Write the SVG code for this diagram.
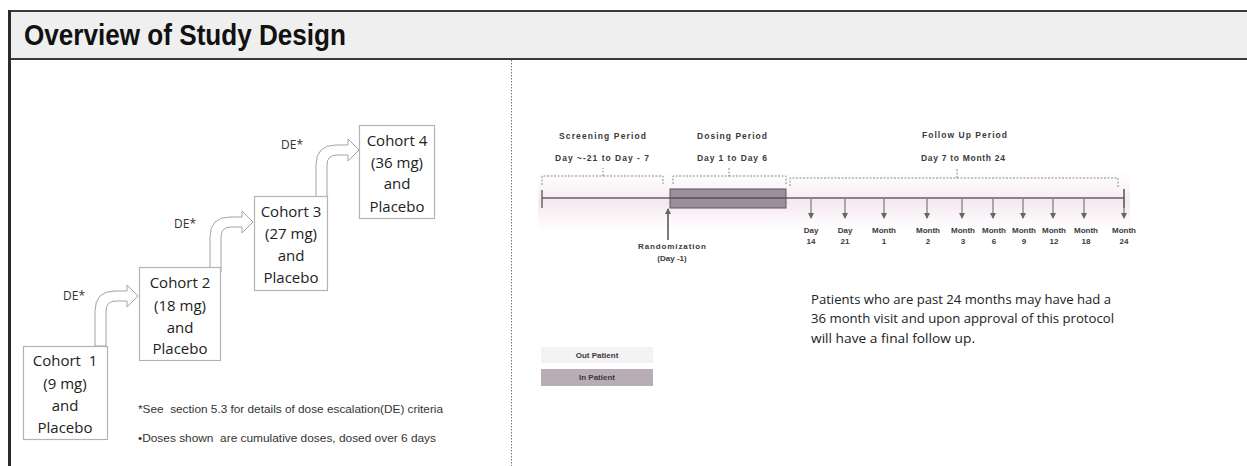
<svg xmlns="http://www.w3.org/2000/svg" width="1247" height="466" viewBox="0 0 1247 466">
<style>
.box{fill:#fff;stroke:#b3b3b3;stroke-width:1.2}
.ct{font-family:"Open Sans","Noto Sans",sans-serif;font-size:15px;fill:#222;text-anchor:middle}
.de{font-family:"Open Sans","Noto Sans",sans-serif;font-size:12px;fill:#333}
.arr{fill:#fff;stroke:#a3a3a3;stroke-width:1}
.fn{font-family:"Liberation Sans",Arial,sans-serif;font-size:10.5px;fill:#333}
.th{font-family:"Liberation Sans",Arial,sans-serif;font-size:8.5px;font-weight:bold;fill:#3a3a3a}
.tl{font-family:"Liberation Sans",Arial,sans-serif;font-size:8px;font-weight:bold;fill:#3a3a3a;text-anchor:middle}
.brace{fill:none;stroke:#8a8a8a;stroke-width:1;stroke-dasharray:2 1.5}
.dn{stroke:#777;stroke-width:1.2}
.note{font-family:"Open Sans","Noto Sans",sans-serif;font-size:13px;fill:#222}
</style>
<defs>
<path id="bend" d="M -43 50 V 15 Q -43 -5 -23 -5 H -11 V -11 L 0 0 L -11 11 V 5 H -22 Q -32 5 -32 15 V 50 Z"/>
<marker id="ah" viewBox="0 0 6 6" refX="5" refY="3" markerWidth="5" markerHeight="5" orient="auto"><path d="M0 0 L6 3 L0 6 Z" fill="#666"/></marker>
<linearGradient id="band" x1="0" y1="0" x2="0" y2="1">
<stop offset="0" stop-color="#f7eef4" stop-opacity="0"/>
<stop offset="0.5" stop-color="#f4e8f0"/>
<stop offset="1" stop-color="#f7eef4" stop-opacity="0"/>
</linearGradient>
</defs>
<rect width="1247" height="466" fill="#fff"/>
<g id="header">
<rect x="9" y="11" width="1238" height="48" fill="#efefef"/>
<line x1="9" y1="11" x2="1247" y2="11" stroke="#3a3a3a" stroke-width="2"/>
<line x1="9" y1="59" x2="1247" y2="59" stroke="#3a3a3a" stroke-width="2"/>
<line x1="9.5" y1="10" x2="9.5" y2="466" stroke="#2a2a2a" stroke-width="3"/>
<text x="24" y="45" font-family="'Liberation Sans',Arial,sans-serif" font-size="29" font-weight="bold" fill="#111" textLength="322" lengthAdjust="spacingAndGlyphs">Overview of Study Design</text>
</g>
<line x1="511.5" y1="60" x2="511.5" y2="466" stroke="#777" stroke-width="1" stroke-dasharray="1.5 1.5"/>
<g id="connectors">
<use href="#bend" class="arr" transform="translate(138,296)"/>
<use href="#bend" class="arr" transform="translate(253,222)"/>
<use href="#bend" class="arr" transform="translate(359,150)"/>
<text class="de" x="63" y="300">DE*</text>
<text class="de" x="174" y="228">DE*</text>
<text class="de" x="281" y="149">DE*</text>
</g>
<g id="cohort1">
<rect class="box" x="23.5" y="346.5" width="84" height="93"/>
<text class="ct" x="65" y="366" xml:space="preserve">Cohort  1</text>
<text class="ct" x="65" y="389">(9 mg)</text>
<text class="ct" x="65" y="411">and</text>
<text class="ct" x="65" y="433">Placebo</text>
</g>
<g id="cohort2">
<rect class="box" x="139.5" y="267.5" width="81" height="93"/>
<text class="ct" x="180" y="288">Cohort 2</text>
<text class="ct" x="180" y="311">(18 mg)</text>
<text class="ct" x="180" y="333">and</text>
<text class="ct" x="180" y="354">Placebo</text>
</g>
<g id="cohort3">
<rect class="box" x="254.5" y="196.5" width="73" height="94"/>
<text class="ct" x="291" y="217">Cohort 3</text>
<text class="ct" x="291" y="239">(27 mg)</text>
<text class="ct" x="291" y="261">and</text>
<text class="ct" x="291" y="283">Placebo</text>
</g>
<g id="cohort4">
<rect class="box" x="359.5" y="125.5" width="75" height="93"/>
<text class="ct" x="397" y="146">Cohort 4</text>
<text class="ct" x="397" y="168">(36 mg)</text>
<text class="ct" x="397" y="189">and</text>
<text class="ct" x="397" y="212">Placebo</text>
</g>
<g id="footnotes">
<text class="fn" x="138" y="413" textLength="305" lengthAdjust="spacingAndGlyphs" xml:space="preserve">*See  section 5.3 for details of dose escalation(DE) criteria</text>
<text class="fn" x="138" y="442" textLength="298" lengthAdjust="spacingAndGlyphs" xml:space="preserve">•Doses shown  are cumulative doses, dosed over 6 days</text>
</g>
<g id="timeline">
<rect x="538" y="172" width="592" height="60" fill="url(#band)"/>
<text class="th" x="559" y="139" textLength="87" lengthAdjust="spacing">Screening Period</text>
<text class="th" x="555" y="161" textLength="94" lengthAdjust="spacing">Day ~-21 to Day - 7</text>
<text class="th" x="697" y="139" textLength="70" lengthAdjust="spacing">Dosing Period</text>
<text class="th" x="697" y="161" textLength="70" lengthAdjust="spacing">Day 1 to Day 6</text>
<text class="th" x="922" y="138" textLength="85" lengthAdjust="spacing">Follow Up Period</text>
<text class="th" x="921" y="161" textLength="84" lengthAdjust="spacing">Day 7 to Month 24</text>
<path class="brace" d="M542 185 V176 H603 V168 M603 176 H663 V184"/>
<path class="brace" d="M673 184 V176 H729 V168 M729 176 H786 V184"/>
<path class="brace" d="M790 186 V178 H957 V168 M957 178 H1118 V188"/>
<line x1="542" y1="198" x2="1124" y2="198" stroke="#8d8089" stroke-width="2"/>
<line x1="542" y1="190" x2="542" y2="208" stroke="#666" stroke-width="1.5"/>
<rect x="670" y="189" width="116" height="19" fill="#9c8f99" stroke="#5f5560" stroke-width="1"/>
<line x1="670" y1="198" x2="786" y2="198" stroke="#6a5d68" stroke-width="2"/>
<line x1="1124" y1="189" x2="1124" y2="208" stroke="#555" stroke-width="1.5"/>
<line x1="668" y1="240" x2="668" y2="209" stroke="#333" stroke-width="1.3" marker-end="url(#ah)"/>
<text class="tl" x="672" y="249" textLength="68" lengthAdjust="spacing">Randomization</text>
<text class="tl" x="672" y="261">(Day -1)</text>
<g>
<line class="dn" x1="811" y1="199" x2="811" y2="218" marker-end="url(#ah)"/>
<line class="dn" x1="845" y1="199" x2="845" y2="218" marker-end="url(#ah)"/>
<line class="dn" x1="884" y1="199" x2="884" y2="218" marker-end="url(#ah)"/>
<line class="dn" x1="927" y1="199" x2="927" y2="218" marker-end="url(#ah)"/>
<line class="dn" x1="962" y1="199" x2="962" y2="218" marker-end="url(#ah)"/>
<line class="dn" x1="993" y1="199" x2="993" y2="218" marker-end="url(#ah)"/>
<line class="dn" x1="1023" y1="199" x2="1023" y2="218" marker-end="url(#ah)"/>
<line class="dn" x1="1053" y1="199" x2="1053" y2="218" marker-end="url(#ah)"/>
<line class="dn" x1="1084" y1="199" x2="1084" y2="218" marker-end="url(#ah)"/>
<line class="dn" x1="1124" y1="199" x2="1124" y2="218" marker-end="url(#ah)"/>
</g>
<text class="tl" x="811" y="233">Day</text><text class="tl" x="811" y="244">14</text>
<text class="tl" x="845" y="233">Day</text><text class="tl" x="845" y="244">21</text>
<text class="tl" x="884" y="233">Month</text><text class="tl" x="884" y="244">1</text>
<text class="tl" x="928" y="233">Month</text><text class="tl" x="928" y="244">2</text>
<text class="tl" x="963" y="233">Month</text><text class="tl" x="963" y="244">3</text>
<text class="tl" x="994" y="233">Month</text><text class="tl" x="994" y="244">6</text>
<text class="tl" x="1024" y="233">Month</text><text class="tl" x="1024" y="244">9</text>
<text class="tl" x="1054" y="233">Month</text><text class="tl" x="1054" y="244">12</text>
<text class="tl" x="1086" y="233">Month</text><text class="tl" x="1086" y="244">18</text>
<text class="tl" x="1124" y="233">Month</text><text class="tl" x="1124" y="244">24</text>
</g>
<g id="legend">
<rect x="541" y="347" width="112" height="16" fill="#f4f2f4"/>
<text class="tl" x="597" y="358">Out Patient</text>
<rect x="541" y="369" width="112" height="17" fill="#b8acb5"/>
<text class="tl" x="597" y="380">In Patient</text>
</g>
<g id="note">
<text class="note" x="811" y="304" textLength="300" lengthAdjust="spacingAndGlyphs">Patients who are past 24 months may have had a</text>
<text class="note" x="811" y="323" textLength="303" lengthAdjust="spacingAndGlyphs">36 month visit and upon approval of this protocol</text>
<text class="note" x="811" y="343" textLength="164" lengthAdjust="spacingAndGlyphs">will have a final follow up.</text>
</g>
</svg>
